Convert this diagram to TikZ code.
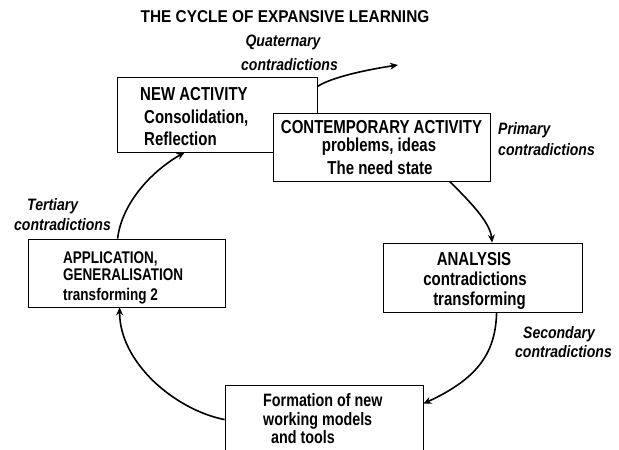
\documentclass[tikz,border=0pt]{standalone}
\usepackage{fontspec}
\setmainfont{Liberation Sans}
\newfontfamily\tallfont[FakeStretch=0.8]{Liberation Sans}
\newfontfamily\labfont[FakeStretch=0.85]{Liberation Sans}
\newfontfamily\titlefont[FakeStretch=0.9]{Liberation Sans}
\usetikzlibrary{arrows.meta,calc}
\begin{document}
\begin{tikzpicture}[x=1pt,y=-1pt,
  box/.style={draw, line width=0.8pt, fill=white, inner sep=0pt},
  bt/.style={inner sep=0pt, font=\tallfont\fontsize{18.75}{20}\selectfont\bfseries},
  st/.style={inner sep=0pt, font=\tallfont\fontsize{16.9}{19}\selectfont\bfseries},
  ft/.style={inner sep=0pt, font=\tallfont\fontsize{17.9}{20}\selectfont\bfseries},
  lab/.style={inner sep=0pt, font=\labfont\fontsize{16.5}{18}\selectfont\bfseries\itshape},
  cyc/.style={line width=1.6pt, -{Stealth[length=8pt,width=7pt]}},
]
\useasboundingbox (0,0) rectangle (619,450);
\clip (0,0) rectangle (619,450);

\node[inner sep=0pt, font=\titlefont\fontsize{17.1}{19}\selectfont\bfseries, anchor=base] (title) at (285,22) {THE CYCLE OF EXPANSIVE LEARNING};

% boxes
\node[box, minimum width=200pt, minimum height=75pt] (na) at (217,114.5) {};
\node[box, minimum width=217pt, minimum height=68pt] (ca) at (381.5,147) {};
\node[box, minimum width=199pt, minimum height=69pt] (an) at (482.5,277.5) {};
\node[box, minimum width=197pt, minimum height=68pt] (ap) at (126.5,273) {};
\node[box, minimum width=198pt, minimum height=90pt] (fo) at (324,430) {};

% box texts
\node[bt, anchor=base west] (na1) at (140,100) {NEW ACTIVITY};
\node[bt, anchor=base west] (na2) at (144,123) {Consolidation,};
\node[bt, anchor=base west] (na3) at (144,145) {Reflection};

\node[bt, anchor=base] (ca1) at (381.5,133) {CONTEMPORARY ACTIVITY};
\node[bt, anchor=base] (ca2) at (379,151) {problems, ideas};
\node[bt, anchor=base] (ca3) at (380,174) {The need state};

\node[bt, anchor=base] (an1) at (474,265) {ANALYSIS};
\node[bt, anchor=base] (an2) at (475,285) {contradictions};
\node[bt, anchor=base] (an3) at (479.5,305) {transforming};

\node[st, anchor=base west] (ap1) at (63,263) {APPLICATION,};
\node[st, anchor=base west] (ap2) at (63,280) {GENERALISATION};
\node[st, anchor=base west] (ap3) at (63,300) {transforming 2};

\node[ft, anchor=base west] (fo1) at (263,406.5) {Formation of new};
\node[ft, anchor=base west] (fo2) at (263,425) {working models};
\node[ft, anchor=base west] (fo3) at (271,443.5) {and tools};

% contradiction labels
\node[lab, anchor=base] (q1) at (283,46) {Quaternary};
\node[lab, anchor=base] (q2) at (289.5,70) {contradictions};
\node[lab, anchor=base west] (p1) at (498,134) {Primary};
\node[lab, anchor=base west] (p2) at (498,155) {contradictions};
\node[lab, anchor=base] (s1) at (559,338) {Secondary};
\node[lab, anchor=base] (s2) at (563.5,357) {contradictions};
\node[lab, anchor=base west] (t1) at (27,210) {Tertiary};
\node[lab, anchor=base west] (t2) at (14,230) {contradictions};

% connectors
\coordinate (q) at (398,65);
\draw[cyc] ($(na.north east)+(0,10)$) .. controls +(13,-9) and +(-33,5) .. (q);
\draw[cyc] ($(ca.south west)+(177,0)$) .. controls +(18,18) and +(-2,-21) .. ($(an.north west)+(109.5,0)$);
\draw[cyc] ($(an.south west)+(114,0)$) .. controls +(-1,38) and +(57,-26) .. ($(fo.north east)+(0,19)$);
\draw[cyc] ($(fo.north west)+(0,35)$) .. controls +(-50,-10) and +(0,55) .. ($(ap.south west)+(92,0)$);
\draw[cyc] ($(ap.north west)+(90,0)$) .. controls +(4,-34) and +(-35,20) .. ($(na.south west)+(68,0)$);
\end{tikzpicture}
\end{document}
